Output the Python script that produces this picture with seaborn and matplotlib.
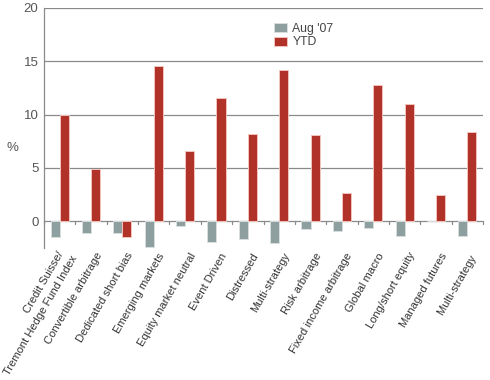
import matplotlib
matplotlib.use("Agg")
import matplotlib.pyplot as plt
import matplotlib.transforms as mtransforms
import seaborn as sns
import pandas as pd
import numpy as np

categories = [
    "Credit Suisse/\nTremont Hedge Fund Index",
    "Convertible arbitrage",
    "Dedicated short bias",
    "Emerging markets",
    "Equity market neutral",
    "Event Driven",
    "Distressed",
    "Multi-strategy",
    "Risk arbitrage",
    "Fixed income arbitrage",
    "Global macro",
    "Long/short equity",
    "Managed futures",
    "Multi-strategy ",
]
aug07 = [-1.5, -1.1, -1.1, -2.4, -0.4, -1.9, -1.7, -2.0, -0.7, -0.9, -0.6, -1.35, 0.0, -1.4]
ytd = [10.0, 4.9, -1.5, 14.6, 6.55, 11.55, 8.2, 14.15, 8.05, 2.7, 12.75, 11.0, 2.5, 8.4]
series_names = ["Aug '07", "YTD"]
yticks = [0, 5, 10, 15, 20]

df = pd.DataFrame({
    "category": categories * 2,
    "series": [series_names[0]] * len(categories) + [series_names[1]] * len(categories),
    "value": aug07 + ytd,
})

sns.set_style("white")
plt.rcParams["font.family"] = ["Liberation Sans", "DejaVu Sans"]

W_PX, H_PX = 490, 380
fig = plt.figure(figsize=(4.9, 3.8), dpi=100)
ax = fig.add_axes([44 / W_PX, 1 - 248 / H_PX, (483 - 44) / W_PX, (248 - 8) / H_PX])

gray = "#8e9fa0"
red = "#b03228"
sns.barplot(data=df, x="category", y="value", hue="series", order=categories,
            hue_order=series_names, palette=[gray, red], width=0.58, gap=0,
            ax=ax, saturation=1, legend=True)
for patch in ax.patches:
    fc = patch.get_facecolor()
    if abs(fc[0] - 0.69) < 0.05:
        patch.set_edgecolor("#f2c4bc")
    else:
        patch.set_edgecolor("#d8dede")
    patch.set_linewidth(0.7)

ax.set_xlim(-0.5, len(categories) - 0.5)
ax.set_ylim(-2.5, 20)
ax.set_yticks(yticks)
ax.set_yticklabels([str(v) for v in yticks])
for v in yticks:
    ax.axhline(v, color="#8a8a8a", lw=0.9, zorder=0)

for s in ["top", "right", "bottom"]:
    ax.spines[s].set_visible(False)
ax.spines["left"].set_color("#8a8a8a")
ax.spines["left"].set_linewidth(0.9)

ax.tick_params(axis="y", length=0, labelsize=9.5, labelcolor="#555555", pad=4)
ax.set_xticks(range(len(categories)))
ax.set_xticklabels([])
ax.tick_params(axis="x", length=0)

# category labels, rotated 60 degrees, one Text per line, right end below each group
ROT = 60
texts = []  # (text, category index, line index)
for i, lab in enumerate(categories):
    for j, line in enumerate(lab.split("\n")):
        t = ax.text(i, 0, line, transform=ax.get_xaxis_transform(), rotation=ROT,
                    rotation_mode="anchor", ha="right", va="center", fontsize=8,
                    color="#333333", clip_on=False)
        texts.append((t, i, j))

# small boundary ticks on the zero line
for b in np.arange(-0.5, len(categories), 1.0):
    ax.plot([b, b], [0, -0.28], color="#8a8a8a", lw=0.9, zorder=1, clip_on=False)

ax.set_xlabel("")
ax.set_ylabel("%", rotation=0, fontsize=9.5, color="#555555", va="center", ha="center")
ax.yaxis.set_label_coords(-32 / 439, (6.9 + 2.5) / 22.5)

leg = ax.legend(loc="upper left", bbox_to_anchor=((274 - 44) / 439, (248 - 23) / 240),
                frameon=False, fontsize=8.8, handlelength=1.05, handleheight=0.75,
                handletextpad=0.45, labelspacing=0.12, borderaxespad=0, borderpad=0)
for t in leg.get_texts():
    t.set_color("#444444")

# place each label so the top corner of its rotated box sits where the reference has it
fig.canvas.draw()
renderer = fig.canvas.get_renderer()
c, s = np.cos(np.deg2rad(ROT)), np.sin(np.deg2rad(ROT))
M = np.array([[c, s], [s, c]])
for t, i, j in texts:
    bb = t.get_window_extent(renderer)
    L, H = np.linalg.solve(M, [bb.width, bb.height])
    top_x = bb.x0 + L * c
    top_y = bb.y1
    cx = ax.transData.transform((i, 0))[0]
    if "\n" in categories[i]:
        if j == 0:
            tx, ty = cx - 3, H_PX - 250
        else:
            tx, ty = cx + 11, H_PX - 254
    else:
        tx, ty = cx + 4, H_PX - 251
    t.set_transform(t.get_transform() + mtransforms.Affine2D().translate(tx - top_x, ty - top_y))

fig.savefig("out.png", dpi=100)
